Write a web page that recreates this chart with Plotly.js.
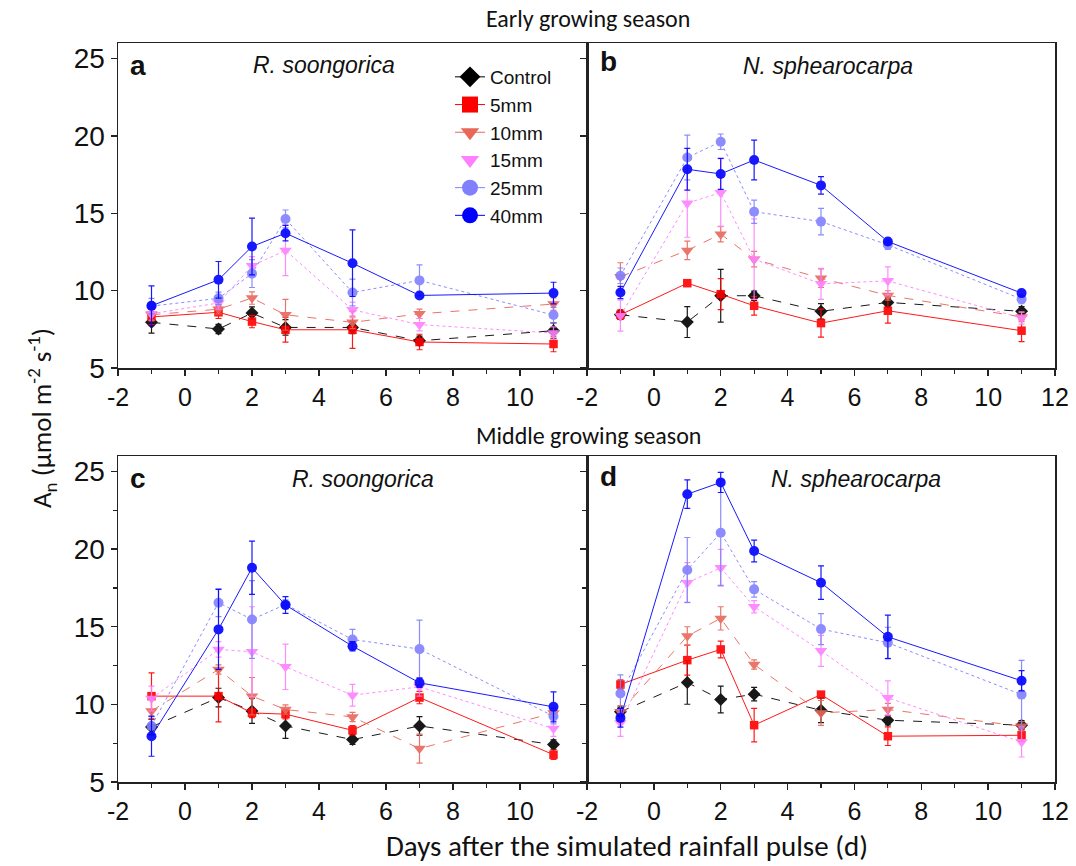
<!DOCTYPE html>
<html>
<head>
<meta charset="utf-8">
<script src="https://cdn.plot.ly/plotly-3.0.1.min.js"></script>
<style>
  html, body { margin: 0; padding: 0; background: #fff; }
  #chart { width: 1076px; height: 866px; }
</style>
</head>
<body>
<div id="chart"></div>
<script>
// Sampling days relative to the simulated rainfall pulse
const days = [-1, 1, 2, 3, 5, 7, 11];

// Treatments and their styling order
const treatments = ['Control', '5mm', '10mm', '15mm', '25mm', '40mm'];

// Net photosynthesis An (µmol m-2 s-1), one row per treatment in the order above
// (a) early season, R. soongorica
const anEarlyRs = [
  [7.95, 7.52, 8.55, 7.62, 7.62, 6.76, 7.41],
  [8.30, 8.60, 8.00, 7.47, 7.47, 6.68, 6.55],
  [8.44, 8.80, 9.52, 8.44, 7.95, 8.50, 9.13],
  [8.50, 9.20, 11.60, 12.60, 8.76, 7.80, 7.26],
  [9.00, 9.50, 11.10, 14.63, 9.88, 10.66, 8.42],
  [9.02, 10.70, 12.85, 13.71, 11.77, 9.69, 9.84]
];
const seEarlyRs = [
  [0.70, 0.30, 0.40, 0.50, 0.40, 0.30, 0.50],
  [0.50, 0.40, 0.40, 0.80, 1.20, 0.50, 0.50],
  [0.40, 0.30, 0.40, 1.00, 0.40, 0.30, 0.40],
  [0.40, 0.40, 0.60, 1.63, 0.50, 0.40, 0.40],
  [0.50, 0.40, 0.90, 0.58, 0.86, 1.00, 0.50],
  [1.29, 1.18, 1.83, 0.50, 2.15, 0.20, 0.70]
];

// (b) early season, N. sphearocarpa
const anEarlyNs = [
  [8.44, 7.97, 9.67, 9.67, 8.66, 9.24, 8.66],
  [8.44, 10.48, 9.77, 9.02, 7.90, 8.70, 7.41],
  [10.90, 12.60, 13.65, 12.03, 10.80, 9.69, 8.30],
  [8.38, 15.65, 16.33, 12.03, 10.44, 10.63, 8.23],
  [10.96, 18.60, 19.62, 15.10, 14.46, 12.96, 9.45],
  [9.88, 17.84, 17.54, 18.44, 16.80, 13.17, 9.84]
];
const seEarlyNs = [
  [0.30, 1.00, 1.70, 0.30, 0.50, 0.30, 0.30],
  [0.30, 0.20, 1.00, 0.60, 0.90, 0.80, 0.70],
  [0.90, 0.60, 0.50, 0.50, 0.60, 0.30, 0.30],
  [1.00, 2.20, 2.20, 2.60, 1.00, 0.90, 0.40],
  [0.50, 1.45, 0.50, 0.75, 0.86, 0.30, 0.30],
  [0.40, 1.35, 1.00, 1.29, 0.56, 0.20, 0.20]
];

// (c) middle season, R. soongorica
const anMidRs = [
  [8.55, 10.44, 9.58, 8.61, 7.73, 8.61, 7.41],
  [10.53, 10.53, 9.45, 9.37, 8.33, 10.44, 6.76],
  [9.58, 12.25, 10.53, 9.67, 9.19, 7.15, 9.45],
  [10.38, 13.54, 13.39, 12.42, 10.59, 11.13, 8.44],
  [8.61, 16.55, 15.47, 16.44, 14.18, 13.56, 9.24],
  [7.95, 14.83, 18.80, 16.40, 13.75, 11.39, 9.84]
];
const seMidRs = [
  [0.50, 0.60, 0.80, 0.80, 0.30, 0.60, 0.30],
  [1.50, 1.66, 0.30, 0.30, 0.30, 0.40, 0.30],
  [0.80, 0.30, 1.20, 0.30, 0.30, 0.93, 0.30],
  [0.80, 0.50, 2.90, 1.46, 0.70, 0.60, 0.50],
  [0.60, 0.90, 2.50, 0.30, 0.65, 1.87, 0.50],
  [1.29, 2.58, 1.72, 0.54, 0.30, 0.30, 0.97]
];

// (d) middle season, N. sphearocarpa
const anMidNs = [
  [9.52, 11.41, 10.31, 10.66, 9.62, 8.98, 8.66],
  [11.28, 12.85, 13.54, 8.66, 10.63, 7.95, 8.01],
  [9.52, 14.40, 15.54, 12.57, 9.45, 9.67, 8.59],
  [8.80, 17.84, 18.80, 16.29, 13.45, 10.42, 7.58],
  [10.70, 18.66, 21.06, 17.41, 14.85, 13.97, 10.63],
  [9.13, 23.54, 24.30, 19.88, 17.84, 14.35, 11.52]
];
const seMidNs = [
  [0.30, 1.40, 0.86, 0.43, 0.80, 0.30, 0.30],
  [0.30, 0.97, 0.54, 1.08, 0.20, 0.60, 0.40],
  [0.40, 0.60, 0.75, 0.30, 0.80, 0.40, 0.30],
  [0.86, 1.29, 1.18, 0.40, 1.00, 1.10, 0.97],
  [1.20, 2.09, 3.40, 0.50, 1.00, 1.00, 2.20],
  [0.60, 0.92, 0.65, 0.70, 1.08, 1.40, 0.65]
];

// Axis tick labels (plain hyphen for negatives)
const yTicks = [5, 10, 15, 20, 25];
const xTicksLeft = [-2, 0, 2, 4, 6, 8, 10];
const xTicksRight = [-2, 0, 2, 4, 6, 8, 10, 12];

// Per-treatment look
const colors  = ['#000000', '#ff0000', '#e8675a', '#ff80ff', '#8080ff', '#0000ff'];
const symbols = ['diamond', 'square', 'triangle-down', 'triangle-down', 'circle', 'circle'];
const sizes   = [10, 8.5, 11, 11, 10, 10];
const dashes  = ['dash', 'solid', 'dash', 'dot', 'dot', 'solid'];

const panels = [
  { an: anEarlyRs, se: seEarlyRs, xa: 'x',  ya: 'y'  },
  { an: anEarlyNs, se: seEarlyNs, xa: 'x2', ya: 'y2' },
  { an: anMidRs,   se: seMidRs,   xa: 'x3', ya: 'y3' },
  { an: anMidNs,   se: seMidNs,   xa: 'x4', ya: 'y4' }
];

const traces = [];

// Legend entries with enlarged symbols
treatments.forEach((name, i) => {
  traces.push({
    type: 'scatter', mode: 'lines+markers', name: name,
    x: [null], y: [null], xaxis: 'x', yaxis: 'y',
    line: { color: colors[i], width: i === 3 ? 0 : 1 },
    marker: { symbol: symbols[i], color: colors[i], size: 16 },
    showlegend: true, hoverinfo: 'skip'
  });
});

panels.forEach(p => {
  treatments.forEach((name, i) => {
    traces.push({
      type: 'scatter', mode: 'lines+markers', name: name,
      x: days, y: p.an[i], xaxis: p.xa, yaxis: p.ya,
      line: { color: colors[i], width: 1, dash: dashes[i] },
      marker: { symbol: symbols[i], color: colors[i], size: sizes[i] },
      error_y: { type: 'data', array: p.se[i], visible: true,
                 color: colors[i], thickness: 1.2, width: 3 },
      showlegend: false, opacity: 0.9
    });
  });
});

const W = 1076, H = 866;
const px = v => v / W;
const py = v => 1 - v / H;

const axisLine = { showline: true, linecolor: '#222', linewidth: 1.5, mirror: true,
                   zeroline: false, showgrid: false };

function xAxis(domain, ticks, anchor) {
  return Object.assign({}, axisLine, {
    domain: domain, anchor: anchor, range: [-2, 12],
    tickmode: 'array', tickvals: ticks, ticktext: ticks.map(String),
    ticks: 'outside', ticklen: 6, tickwidth: 1.3, tickcolor: '#222',
    minor: { tickmode: 'linear', tick0: -1, dtick: 2, ticks: 'outside',
             ticklen: 4, tickwidth: 1.2, tickcolor: '#222' },
    tickfont: { family: 'Liberation Sans, Arial, sans-serif', size: 25, color: '#111' }
  });
}
function yAxis(domain, showLabels, minorTicks, anchor) {
  const ax = Object.assign({}, axisLine, {
    domain: domain, anchor: anchor, range: [5, 26],
    tickmode: 'array', tickvals: yTicks, ticktext: yTicks.map(String),
    showticklabels: showLabels,
    ticks: 'outside', ticklen: 6, tickwidth: 1.3, tickcolor: '#222',
    tickfont: { family: 'Liberation Sans, Arial, sans-serif', size: 28, color: '#111' }
  });
  if (minorTicks) {
    ax.minor = { tickmode: 'linear', tick0: 7.5, dtick: 5, ticks: 'outside',
                 ticklen: 4, tickwidth: 1.2, tickcolor: '#222' };
  }
  return ax;
}

const colL = [px(118), px(587)];
const colR = [px(587), px(1055)];
const rowT = [py(368), py(43)];
const rowB = [py(782), py(456)];

const calibri = 'Carlito, Calibri, Lato, sans-serif';
const ann = (text, x, y, size, extra) => Object.assign({
  text: text, x: px(x), y: py(y), xref: 'paper', yref: 'paper',
  showarrow: false, xanchor: 'center', yanchor: 'middle',
  font: { family: 'Liberation Sans, Arial, sans-serif', size: size, color: '#111' }
}, extra || {});

const annotations = [
  ann('Early growing season', 588, 18, 24, { font: { family: calibri, size: 24, color: '#111' } }),
  ann('Middle growing season', 588, 435, 24, { font: { family: calibri, size: 24, color: '#111' } }),
  ann('Days after the simulated rainfall pulse (d)', 627, 846, 29, { font: { family: calibri, size: 29, color: '#111' } }),
  ann('A<sub>n</sub> (µmol m<sup>-2</sup> s<sup>-1</sup>)', 42, 418, 27,
      { textangle: -90, font: { family: calibri, size: 27, color: '#111' } }),
  ann('<b>a</b>', 138, 65, 28),
  ann('<b>b</b>', 608, 62, 28),
  ann('<b>c</b>', 138, 478, 28),
  ann('<b>d</b>', 608, 476, 28),
  ann('<i>R. soongorica</i>', 324, 65, 23),
  ann('<i>N. sphearocarpa</i>', 828, 66, 23),
  ann('<i>R. soongorica</i>', 363, 479, 23),
  ann('<i>N. sphearocarpa</i>', 856, 479, 23)
];

const layout = {
  width: W, height: H,
  margin: { l: 0, r: 0, t: 0, b: 0 },
  paper_bgcolor: '#fff', plot_bgcolor: '#fff',
  showlegend: true,
  legend: {
    x: px(450), y: py(58), xanchor: 'left', yanchor: 'top',
    bgcolor: 'rgba(0,0,0,0)', borderwidth: 0, tracegroupgap: 0,
    font: { family: 'Liberation Sans, Arial, sans-serif', size: 19, color: '#111' }
  },
  xaxis:  xAxis(colL, xTicksLeft,  'y'),
  xaxis2: xAxis(colR, xTicksRight, 'y2'),
  xaxis3: xAxis(colL, xTicksLeft,  'y3'),
  xaxis4: xAxis(colR, xTicksRight, 'y4'),
  yaxis:  yAxis(rowT, true,  false, 'x'),
  yaxis2: yAxis(rowT, false, false, 'x2'),
  yaxis3: yAxis(rowB, true,  true,  'x3'),
  yaxis4: yAxis(rowB, false, true,  'x4'),
  annotations: annotations
};

Plotly.newPlot('chart', traces, layout, { displayModeBar: false, staticPlot: true });
</script>
</body>
</html>
